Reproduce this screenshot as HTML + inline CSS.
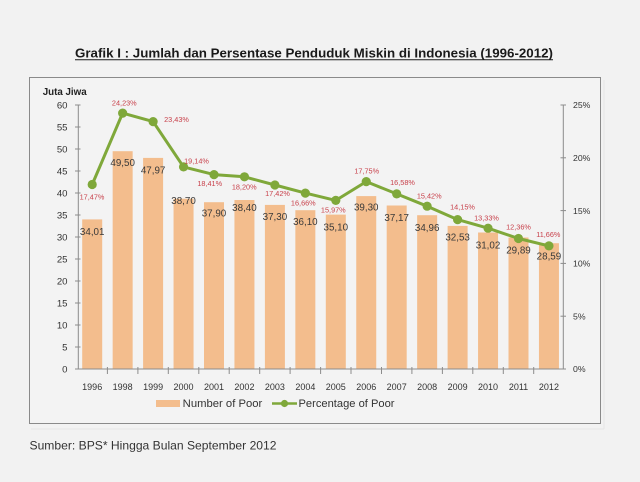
<!DOCTYPE html>
<html><head><meta charset="utf-8"><style>
html,body{margin:0;padding:0;background:#f2f2f2;}
svg{display:block;}
svg text{font-family:"Liberation Sans", Arial, sans-serif;}
</style></head><body>
<svg width="640" height="482" viewBox="0 0 640 482" xmlns="http://www.w3.org/2000/svg">
<rect x="0" y="0" width="640" height="482" fill="#f2f2f2"/>
<!-- title -->
<text x="75" y="57.5" font-size="12.5" font-weight="bold" fill="#1a1a1a" textLength="478" lengthAdjust="spacingAndGlyphs">Grafik I : Jumlah dan Persentase Penduduk Miskin di Indonesia (1996-2012)</text>
<line x1="75" y1="59.8" x2="553" y2="59.8" stroke="#1a1a1a" stroke-width="1"/>
<!-- panel -->
<rect x="29.5" y="77.5" width="571" height="346" fill="#f3f3f3" stroke="#8a8a8a" stroke-width="1"/>
<line x1="31" y1="429" x2="604" y2="429" stroke="#e6e6e6" stroke-width="1"/>
<line x1="604" y1="80" x2="604" y2="429" stroke="#e6e6e6" stroke-width="1"/>
<text x="42.7" y="95" font-size="10" font-weight="bold" fill="#222" textLength="44" lengthAdjust="spacingAndGlyphs">Juta Jiwa</text>
<!-- bars -->
<g fill="#f3bd8d">
<rect x="82.2" y="219.4" width="20" height="149.6"/>
<rect x="112.65" y="151.2" width="20" height="217.8"/>
<rect x="143.1" y="157.9" width="20" height="211.1"/>
<rect x="173.55" y="198.7" width="20" height="170.3"/>
<rect x="204" y="202.2" width="20" height="166.8"/>
<rect x="234.45" y="200" width="20" height="169"/>
<rect x="264.9" y="204.9" width="20" height="164.1"/>
<rect x="295.35" y="210.2" width="20" height="158.8"/>
<rect x="325.8" y="214.6" width="20" height="154.4"/>
<rect x="356.25" y="196.1" width="20" height="172.9"/>
<rect x="386.7" y="205.5" width="20" height="163.5"/>
<rect x="417.15" y="215.2" width="20" height="153.8"/>
<rect x="447.6" y="225.9" width="20" height="143.1"/>
<rect x="478.05" y="232.5" width="20" height="136.5"/>
<rect x="508.5" y="237.5" width="20" height="131.5"/>
<rect x="538.95" y="243.2" width="20" height="125.8"/>
</g>
<!-- bar labels -->
<g font-size="9.8" fill="#3a3a3a" text-anchor="middle">
<text x="92.2" y="235">34,01</text>
<text x="122.65" y="166">49,50</text>
<text x="153.1" y="173.3">47,97</text>
<text x="183.55" y="204">38,70</text>
<text x="214" y="216.6">37,90</text>
<text x="244.45" y="211">38,40</text>
<text x="274.9" y="220">37,30</text>
<text x="305.35" y="225">36,10</text>
<text x="335.8" y="230.6">35,10</text>
<text x="366.25" y="210.6">39,30</text>
<text x="396.7" y="221">37,17</text>
<text x="427.15" y="230.8">34,96</text>
<text x="457.6" y="240.6">32,53</text>
<text x="488.05" y="248.3">31,02</text>
<text x="518.5" y="253.3">29,89</text>
<text x="548.95" y="259.3">28,59</text>
</g>
<!-- axes -->
<g stroke="#8c8c8c" stroke-width="1">
<line x1="78.3" y1="105" x2="78.3" y2="369"/>
<line x1="563.3" y1="105" x2="563.3" y2="369"/>
<line x1="78.3" y1="369" x2="566" y2="369"/>
<line x1="75" y1="105" x2="80.5" y2="105"/>
<line x1="75" y1="127" x2="80.5" y2="127"/>
<line x1="75" y1="149" x2="80.5" y2="149"/>
<line x1="75" y1="171" x2="80.5" y2="171"/>
<line x1="75" y1="193" x2="80.5" y2="193"/>
<line x1="75" y1="215" x2="80.5" y2="215"/>
<line x1="75" y1="237" x2="80.5" y2="237"/>
<line x1="75" y1="259" x2="80.5" y2="259"/>
<line x1="75" y1="281" x2="80.5" y2="281"/>
<line x1="75" y1="303" x2="80.5" y2="303"/>
<line x1="75" y1="325" x2="80.5" y2="325"/>
<line x1="75" y1="347" x2="80.5" y2="347"/>
<line x1="75" y1="369" x2="80.5" y2="369"/>
<line x1="560.5" y1="105" x2="566" y2="105"/>
<line x1="560.5" y1="157.8" x2="566" y2="157.8"/>
<line x1="560.5" y1="210.6" x2="566" y2="210.6"/>
<line x1="560.5" y1="263.4" x2="566" y2="263.4"/>
<line x1="560.5" y1="316.2" x2="566" y2="316.2"/>
<line x1="560.5" y1="369" x2="566" y2="369"/>
<line x1="107.4" y1="367" x2="107.4" y2="374"/>
<line x1="137.9" y1="367" x2="137.9" y2="374"/>
<line x1="168.3" y1="367" x2="168.3" y2="374"/>
<line x1="198.8" y1="367" x2="198.8" y2="374"/>
<line x1="229.2" y1="367" x2="229.2" y2="374"/>
<line x1="259.7" y1="367" x2="259.7" y2="374"/>
<line x1="290.1" y1="367" x2="290.1" y2="374"/>
<line x1="320.6" y1="367" x2="320.6" y2="374"/>
<line x1="351" y1="367" x2="351" y2="374"/>
<line x1="381.5" y1="367" x2="381.5" y2="374"/>
<line x1="411.9" y1="367" x2="411.9" y2="374"/>
<line x1="442.4" y1="367" x2="442.4" y2="374"/>
<line x1="472.8" y1="367" x2="472.8" y2="374"/>
<line x1="503.3" y1="367" x2="503.3" y2="374"/>
<line x1="533.7" y1="367" x2="533.7" y2="374"/>
</g>
<!-- left labels -->
<g font-size="9.6" fill="#333" text-anchor="end">
<text x="67.5" y="108.4">60</text>
<text x="67.5" y="130.4">55</text>
<text x="67.5" y="152.4">50</text>
<text x="67.5" y="174.4">45</text>
<text x="67.5" y="196.4">40</text>
<text x="67.5" y="218.4">35</text>
<text x="67.5" y="240.4">30</text>
<text x="67.5" y="262.4">25</text>
<text x="67.5" y="284.4">20</text>
<text x="67.5" y="306.4">15</text>
<text x="67.5" y="328.4">10</text>
<text x="67.5" y="350.4">5</text>
<text x="67.5" y="372.4">0</text>
</g>
<!-- right labels -->
<g font-size="8.7" fill="#333">
<text x="573" y="108.2">25%</text>
<text x="573" y="161">20%</text>
<text x="573" y="213.8">15%</text>
<text x="573" y="266.6">10%</text>
<text x="573" y="319.4">5%</text>
<text x="573" y="372.2">0%</text>
</g>
<!-- year labels -->
<g font-size="9" fill="#333" text-anchor="middle">
<text x="92.2" y="390">1996</text>
<text x="122.65" y="390">1998</text>
<text x="153.1" y="390">1999</text>
<text x="183.55" y="390">2000</text>
<text x="214" y="390">2001</text>
<text x="244.45" y="390">2002</text>
<text x="274.9" y="390">2003</text>
<text x="305.35" y="390">2004</text>
<text x="335.8" y="390">2005</text>
<text x="366.25" y="390">2006</text>
<text x="396.7" y="390">2007</text>
<text x="427.15" y="390">2008</text>
<text x="457.6" y="390">2009</text>
<text x="488.05" y="390">2010</text>
<text x="518.5" y="390">2011</text>
<text x="548.95" y="390">2012</text>
</g>
<!-- line -->
<polyline fill="none" stroke="#7fa83a" stroke-width="3" stroke-linejoin="round" points="92.2,184.5 122.65,113.1 153.1,121.6 183.55,166.9 214,174.6 244.45,176.8 274.9,185 305.35,193.1 335.8,200.4 366.25,181.6 396.7,193.9 427.15,206.2 457.6,219.6 488.05,228.2 518.5,238.5 548.95,245.9"/>
<g fill="#7fa83a">
<circle cx="92.2" cy="184.5" r="4.6"/>
<circle cx="122.65" cy="113.1" r="4.6"/>
<circle cx="153.1" cy="121.6" r="4.6"/>
<circle cx="183.55" cy="166.9" r="4.6"/>
<circle cx="214" cy="174.6" r="4.6"/>
<circle cx="244.45" cy="176.8" r="4.6"/>
<circle cx="274.9" cy="185" r="4.6"/>
<circle cx="305.35" cy="193.1" r="4.6"/>
<circle cx="335.8" cy="200.4" r="4.6"/>
<circle cx="366.25" cy="181.6" r="4.6"/>
<circle cx="396.7" cy="193.9" r="4.6"/>
<circle cx="427.15" cy="206.2" r="4.6"/>
<circle cx="457.6" cy="219.6" r="4.6"/>
<circle cx="488.05" cy="228.2" r="4.6"/>
<circle cx="518.5" cy="238.5" r="4.6"/>
<circle cx="548.95" cy="245.9" r="4.6"/>
</g>
<!-- pct labels -->
<g font-size="7.3" fill="#c8414b" text-anchor="middle">
<text x="92" y="199.6">17,47%</text>
<text x="124.3" y="105.3">24,23%</text>
<text x="176.5" y="121.9">23,43%</text>
<text x="196.5" y="163.6">19,14%</text>
<text x="209.7" y="185.9">18,41%</text>
<text x="244.2" y="189.3">18,20%</text>
<text x="277.5" y="195.9">17,42%</text>
<text x="303.3" y="205.3">16,66%</text>
<text x="333.3" y="212.6">15,97%</text>
<text x="366.7" y="173.3">17,75%</text>
<text x="402.5" y="184.9">16,58%</text>
<text x="429.2" y="198.6">15,42%</text>
<text x="462.5" y="209.6">14,15%</text>
<text x="486.5" y="220.3">13,33%</text>
<text x="518.5" y="229.3">12,36%</text>
<text x="548.3" y="236.9">11,66%</text>
</g>
<!-- legend -->
<rect x="156" y="400" width="24" height="7" fill="#f3bd8d"/>
<text x="182.7" y="407.2" font-size="11" fill="#333" textLength="79.6" lengthAdjust="spacingAndGlyphs">Number of Poor</text>
<line x1="272" y1="403.5" x2="297" y2="403.5" stroke="#7fa83a" stroke-width="2.5"/>
<circle cx="284.5" cy="403.5" r="3.6" fill="#7fa83a"/>
<text x="298.5" y="407.2" font-size="11" fill="#333" textLength="96" lengthAdjust="spacingAndGlyphs">Percentage of Poor</text>
<!-- source -->
<text x="29.5" y="449.3" font-size="11.6" fill="#333" textLength="247" lengthAdjust="spacingAndGlyphs">Sumber: BPS* Hingga Bulan September 2012</text>
</svg>
</body></html>
